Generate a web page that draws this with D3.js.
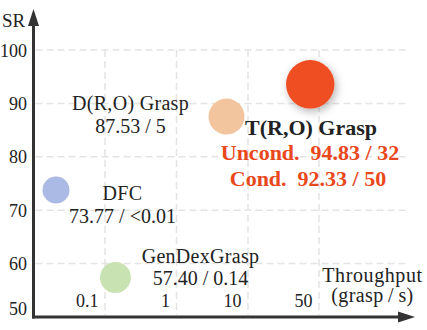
<!DOCTYPE html>
<html>
<head>
<meta charset="utf-8">
<script src="https://cdn.jsdelivr.net/npm/d3@7"></script>
<style>
  html, body { margin: 0; padding: 0; background: #fff; }
</style>
</head>
<body>
<svg id="chart" width="427" height="330"></svg>
<script>
// Baseline methods: success rate (SR, %) and throughput (grasp/s)
const methods = ["DFC", "GenDexGrasp", "D(R,O) Grasp"];
const successRate = [73.77, 57.40, 87.53];
const throughput = [0.01, 0.14, 5];            // DFC is an upper bound
const throughputText = ["<0.01", "0.14", "5"];

// Proposed method, two variants
const oursName = "T(R,O) Grasp";
const oursVariants = ["Uncond.", "Cond."];
const oursSR = [94.83, 92.33];
const oursThroughput = [32, 50];

// Axis ticks
const srTicks = [50, 60, 70, 80, 90, 100];
const throughputTicks = [0.1, 1, 10, 50];

// Styles
const serif = "'Liberation Serif', 'Times New Roman', Times, serif";
const baseColors = ["#aabae4", "#c8e2b2", "#f2c59f"];
const oursColor = "#ef4d23";
const oursText = "#e9481c";
const axisColor = "#333";
const gridColor = "#e4e4e4";
const textColor = "#222";

const svg = d3.select("#chart").style("font-family", serif);

// Scales
const y = d3.scaleLinear().domain([50, 100]).range([317, 50]);
const x = d3.scaleLog()
  .domain([0.01, 0.1, 1, 10, 50])
  .range([56, 105, 176.5, 248, 319]);
const r = d3.scaleLog()
  .domain([0.01, 10, 50])
  .range([13.5, 18.5, 25]);

const axisX0 = 33.5, axisY0 = y(50);

// Shadow for the highlighted bubble
const defs = svg.append("defs");
const f = defs.append("filter").attr("id", "shadow")
  .attr("x", "-50%").attr("y", "-50%").attr("width", "200%").attr("height", "200%");
f.append("feDropShadow")
  .attr("dx", 2).attr("dy", 3).attr("stdDeviation", 4)
  .attr("flood-color", "#000").attr("flood-opacity", 0.3);

// Grid
const grid = svg.append("g")
  .attr("stroke", gridColor).attr("stroke-width", 1.5)
  .attr("stroke-dasharray", "7 4").attr("fill", "none");
grid.selectAll("line.h").data(srTicks.filter(t => t > 50)).join("line")
  .attr("class", "h")
  .attr("x1", axisX0 + 2).attr("x2", 406)
  .attr("y1", d => y(d)).attr("y2", d => y(d));
grid.selectAll("line.v").data(throughputTicks).join("line")
  .attr("class", "v")
  .attr("x1", d => x(d)).attr("x2", d => x(d))
  .attr("y1", y(100)).attr("y2", axisY0 - 2);

// Bubbles
const baseData = methods.map((m, i) => ({
  name: m, sr: successRate[i], tp: throughput[i], tpText: throughputText[i], color: baseColors[i]
}));
const ours = {
  name: oursName,
  sr: d3.mean(oursSR),
  tp: d3.mean(oursThroughput)
};

svg.append("g").selectAll("circle").data(baseData).join("circle")
  .attr("cx", d => x(d.tp)).attr("cy", d => y(d.sr)).attr("r", d => r(d.tp))
  .attr("fill", d => d.color);

svg.append("circle")
  .attr("cx", x(ours.tp)).attr("cy", y(ours.sr)).attr("r", r(ours.tp))
  .attr("fill", oursColor).attr("filter", "url(#shadow)");

// Y axis ticks
const yAxis = svg.append("g")
  .attr("transform", `translate(${axisX0 - 6.5},0)`)
  .call(d3.axisLeft(y).tickValues(srTicks).tickSize(0).tickPadding(0).tickFormat(d3.format("d")));
yAxis.attr("font-family", null).attr("font-size", null);
yAxis.select(".domain").remove();
yAxis.selectAll("text")
  .style("font-family", serif).attr("font-size", 18).attr("fill", textColor)
  .attr("dy", "0.34em");
yAxis.selectAll(".tick").filter(d => d === 50)
  .attr("transform", `translate(0,${axisY0 - 8.5})`);

// X axis ticks
const xAxis = svg.append("g")
  .attr("transform", `translate(0,${axisY0})`)
  .call(d3.axisBottom(x).tickValues(throughputTicks).tickSize(0).tickFormat(d => String(d)));
xAxis.attr("font-family", null).attr("font-size", null);
xAxis.select(".domain").remove();
xAxis.selectAll("text")
  .style("font-family", serif).attr("font-size", 18).attr("fill", textColor)
  .attr("text-anchor", "end").attr("x", -7).attr("y", -10).attr("dy", null);

// Axis lines with arrowheads
const axes = svg.append("g").attr("fill", axisColor).attr("stroke", axisColor);
axes.append("line")
  .attr("x1", axisX0).attr("y1", axisY0 + 1.5).attr("x2", axisX0).attr("y2", 22)
  .attr("stroke-width", 3);
axes.append("line")
  .attr("x1", axisX0 - 1.5).attr("y1", axisY0).attr("x2", 402).attr("y2", axisY0)
  .attr("stroke-width", 3);
axes.append("path").attr("stroke", "none")
  .attr("d", `M${axisX0},9 L${axisX0 + 5.5},26 L${axisX0 - 5.5},26 Z`);
axes.append("path").attr("stroke", "none")
  .attr("d", `M415,${axisY0} L398,${axisY0 - 5.5} L398,${axisY0 + 5.5} Z`);

// Axis titles
svg.append("text").attr("x", 2).attr("y", 27)
  .style("font-family", serif).attr("font-size", 19).attr("fill", textColor).text("SR");
svg.append("text").attr("x", 372.5).attr("y", 282).attr("text-anchor", "middle")
  .style("font-family", serif).attr("font-size", 20).attr("letter-spacing", 0.6)
  .attr("fill", textColor).text("Throughput");
svg.append("text").attr("x", 372.5).attr("y", 302).attr("text-anchor", "middle")
  .style("font-family", serif).attr("font-size", 20).attr("letter-spacing", 0.4)
  .attr("fill", textColor).text("(grasp\u2009/\u2009s)");

// Method annotations
const labelAt = {
  "DFC": [122.5, 200],
  "GenDexGrasp": [200.5, 262.5],
  "D(R,O) Grasp": [130.5, 110]
};
const fmt = d3.format(".2f");
const labels = svg.append("g").attr("fill", textColor).attr("font-size", 20).attr("text-anchor", "middle");
baseData.forEach(d => {
  const [lx, ly] = labelAt[d.name];
  labels.append("text").attr("x", lx).attr("y", ly).style("font-family", serif)
    .attr("letter-spacing", 0.3).text(d.name);
  labels.append("text").attr("x", lx).attr("y", ly + 22.5).style("font-family", serif)
    .text(`${fmt(d.sr)} / ${d.tpText}`);
});

const oursLabel = svg.append("g").attr("text-anchor", "middle").attr("font-weight", "bold");
oursLabel.append("text").attr("x", 311).attr("y", 135).style("font-family", serif)
  .attr("font-size", 22).attr("fill", textColor).text(oursName);
oursVariants.forEach((v, i) => {
  oursLabel.append("text")
    .attr("x", 310 - i * 2).attr("y", 160 + i * 26).style("font-family", serif)
    .attr("font-size", 22).attr("fill", oursText)
    .text(`${v}\u00a0 ${fmt(oursSR[i])} / ${oursThroughput[i]}`);
});
</script>
</body>
</html>
